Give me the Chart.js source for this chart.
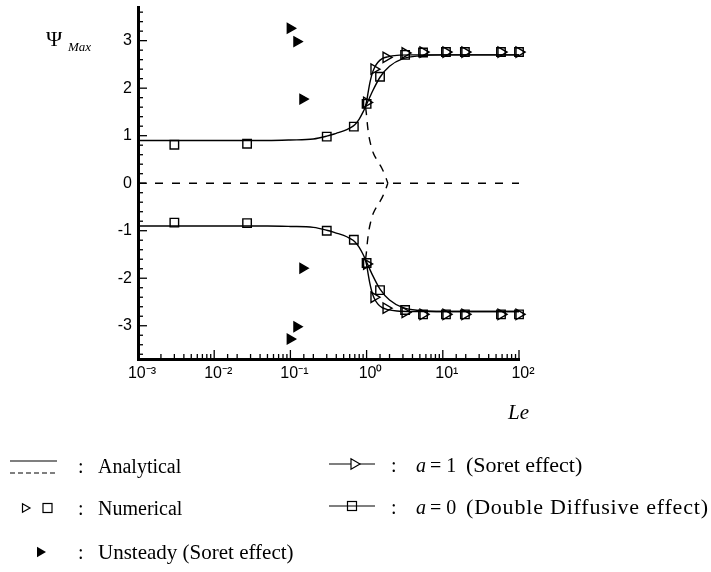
<!DOCTYPE html>
<html><head><meta charset="utf-8">
<script src="https://cdn.jsdelivr.net/npm/chart.js@4.4.0/dist/chart.umd.min.js"></script>
<style>html,body{margin:0;padding:0;background:#fff}#wrap{position:relative;width:711px;height:572px}</style>
</head><body><div id="wrap"><canvas id="c"></canvas></div>
<script>
// ---- tick labels ----
const xTickValues = [0.001, 0.01, 0.1, 1, 10, 100];
const xTickLabels = ['10\u207B\u00B3', '10\u207B\u00B2', '10\u207B\u00B9', '10\u2070', '10\u00B9', '10\u00B2'];
const yTickValues = [-3, -2, -1, 0, 1, 2, 3];
const yMinorStep = 0.2;

// ---- analytical, a = 0 (double diffusive) ----
const leAnaA0 = [0.001, 0.01, 0.05, 0.1, 0.2, 0.3, 0.4, 0.5, 0.6, 0.7, 0.8, 0.9, 1.0, 1.2, 1.5, 2.0, 3.0, 5.0, 10, 100];
const psiAnaA0Up = [0.90, 0.90, 0.90, 0.91, 0.93, 0.99, 1.05, 1.10, 1.16, 1.23, 1.35, 1.50, 1.66, 1.94, 2.23, 2.46, 2.62, 2.68, 2.70, 2.70];
const psiAnaA0Low = [-0.90, -0.90, -0.90, -0.91, -0.93, -0.99, -1.05, -1.10, -1.16, -1.23, -1.35, -1.50, -1.66, -1.94, -2.23, -2.46, -2.62, -2.68, -2.70, -2.70];

// ---- analytical, a = 1 (Soret) ----
const leAnaA1 = [0.95, 1.0, 1.05, 1.1, 1.17, 1.25, 1.4, 1.6, 1.9, 2.5, 4.0, 100];
const psiAnaA1Up = [1.58, 1.72, 1.92, 2.10, 2.28, 2.41, 2.54, 2.62, 2.66, 2.69, 2.70, 2.70];
const psiAnaA1Low = [-1.58, -1.72, -1.92, -2.10, -2.28, -2.41, -2.54, -2.62, -2.66, -2.69, -2.70, -2.70];

// ---- analytical, unstable branch (dashed) ----
const leAnaDash = [0.97, 1.0, 1.03, 1.07, 1.13, 1.22, 1.4, 1.58, 1.75, 1.9];
const psiAnaDashUp = [1.60, 1.42, 1.20, 1.00, 0.82, 0.64, 0.46, 0.32, 0.16, 0];
const psiAnaDashLow = [-1.60, -1.42, -1.20, -1.00, -0.82, -0.64, -0.46, -0.32, -0.16, 0];
const leZero = [0.001, 100];
const psiZero = [0, 0];

// ---- numerical, a = 0 (squares) ----
const leNumA0 = [0.003, 0.027, 0.3, 0.68, 1.0, 1.5, 3.2, 5.5, 11, 19.5, 58, 100];
const psiNumA0Up = [0.81, 0.83, 0.98, 1.19, 1.67, 2.24, 2.70, 2.75, 2.76, 2.76, 2.76, 2.76];
const psiNumA0Low = [-0.83, -0.84, -1.00, -1.19, -1.68, -2.25, -2.67, -2.76, -2.76, -2.76, -2.76, -2.76];

// ---- numerical, a = 1 (open triangles) ----
const leNumA1 = [1.0, 1.25, 1.8, 3.2, 5.5, 11, 19.5, 58, 100];
const psiNumA1Up = [1.70, 2.40, 2.65, 2.74, 2.76, 2.76, 2.76, 2.76, 2.76];
const psiNumA1Low = [-1.70, -2.40, -2.63, -2.72, -2.76, -2.76, -2.76, -2.76, -2.76];

// ---- unsteady (filled triangles) ----
const leUnsteady = [0.099, 0.121, 0.145, 0.145, 0.121, 0.099];
const psiUnsteady = [3.26, 2.98, 1.77, -1.79, -3.02, -3.28];

function pts(xs, ys) { return xs.map((x, i) => ({x: x, y: ys[i]})); }
function curve(xs, ys, dash) {
  return {data: pts(xs, ys), showLine: true, pointRadius: 0, borderColor: '#000', borderWidth: 1.4,
    borderDash: dash || [], cubicInterpolationMode: 'monotone', clip: false, fill: false};
}
function marks(xs, ys, style, r, filled, rot) {
  return {data: pts(xs, ys), showLine: false, pointStyle: style, pointRadius: r, pointRotation: rot || 0,
    pointBorderColor: '#000', pointBorderWidth: 1.4,
    pointBackgroundColor: filled ? '#000' : 'rgba(0,0,0,0)', clip: false};
}

const SERIF = '"Liberation Serif", "Times New Roman", serif';
const SANS = '"Liberation Sans", Arial, sans-serif';

const decor = {
  id: 'decor',
  afterDraw(chart) {
    const ctx = chart.ctx, xs = chart.scales.x, ys = chart.scales.y, a = chart.chartArea;
    ctx.save();
    ctx.strokeStyle = '#000'; ctx.fillStyle = '#000'; ctx.lineWidth = 1.3; ctx.setLineDash([]);
    // inward ticks, x
    xs.ticks.forEach(t => {
      const px = xs.getPixelForValue(t.value);
      const lg = Math.log10(t.value);
      const major = Math.abs(lg - Math.round(lg)) < 1e-6;
      ctx.beginPath(); ctx.moveTo(px, a.bottom); ctx.lineTo(px, a.bottom - (major ? 9 : 5)); ctx.stroke();
    });
    // inward ticks, y
    for (let v = Math.ceil(ys.min / yMinorStep) * yMinorStep; v <= ys.max + 1e-9; v += yMinorStep) {
      const py = ys.getPixelForValue(v);
      const major = Math.abs(v - Math.round(v)) < 1e-6;
      ctx.beginPath(); ctx.moveTo(a.left, py); ctx.lineTo(a.left + (major ? 9 : 5), py); ctx.stroke();
    }
    // axis titles
    ctx.textAlign = 'left'; ctx.textBaseline = 'alphabetic';
    ctx.font = '22px ' + SERIF; ctx.fillText('\u03A8', 46, 46);
    ctx.font = 'italic 13px ' + SERIF; ctx.fillText('Max', 68, 51);
    ctx.font = 'italic 21px ' + SERIF; ctx.fillText('Le', 508, 419);

    // legend
    const tri = (cx, cy, r, fill) => {
      ctx.beginPath(); ctx.moveTo(cx + r, cy); ctx.lineTo(cx - r / 2, cy - r * 0.866); ctx.lineTo(cx - r / 2, cy + r * 0.866); ctx.closePath();
      if (fill) ctx.fill(); else ctx.stroke();
    };
    ctx.lineWidth = 1.2;
    ctx.beginPath(); ctx.moveTo(10, 461); ctx.lineTo(57, 461); ctx.stroke();
    ctx.setLineDash([5, 3]);
    ctx.beginPath(); ctx.moveTo(10, 473); ctx.lineTo(57, 473); ctx.stroke();
    ctx.setLineDash([]);
    tri(25, 508, 5, false);
    ctx.strokeRect(43, 503.5, 9, 9);
    tri(40, 552, 6, true);
    // right column symbols
    ctx.beginPath(); ctx.moveTo(329, 464); ctx.lineTo(375, 464); ctx.stroke();
    ctx.fillStyle = '#fff'; tri(354, 464, 6, true); ctx.fillStyle = '#000'; tri(354, 464, 6, false);
    ctx.beginPath(); ctx.moveTo(329, 506); ctx.lineTo(375, 506); ctx.stroke();
    ctx.strokeRect(347.5, 501.5, 9, 9);

    ctx.font = '20px ' + SERIF;
    ctx.fillText(':', 78, 473); ctx.fillText('Analytical', 98, 473);
    ctx.fillText(':', 78, 515); ctx.fillText('Numerical', 98, 515);
    ctx.fillText(':', 78, 559);
    ctx.font = '21px ' + SERIF;
    ctx.fillText('Unsteady (Soret effect)', 98, 559);
    ctx.font = '20px ' + SERIF;
    ctx.fillText(':', 391, 472); ctx.fillText(':', 391, 514);
    ctx.font = 'italic 20px ' + SERIF; ctx.fillText('a', 416, 472); ctx.fillText('a', 416, 514);
    ctx.font = '20px ' + SERIF;
    ctx.fillText('= 1', 430, 472); ctx.fillText('= 0', 430, 514);
    ctx.font = '22px ' + SERIF;
    ctx.fillText('(Soret effect)', 466, 472);
    ctx.letterSpacing = '0.8px';
    ctx.fillText('(Double Diffusive effect)', 466, 514);
    ctx.letterSpacing = '0px';
    ctx.restore();
  }
};

new Chart(document.getElementById('c'), {
  type: 'scatter',
  data: {
    datasets: [
      marks(leNumA0, psiNumA0Up, 'rect', 6, false),
      marks(leNumA0, psiNumA0Low, 'rect', 6, false),
      marks(leNumA1, psiNumA1Up, 'triangle', 6, false, 90),
      marks(leNumA1, psiNumA1Low, 'triangle', 6, false, 90),
      marks(leUnsteady, psiUnsteady, 'triangle', 5.5, true, 90),
      curve(leAnaA0, psiAnaA0Up),
      curve(leAnaA0, psiAnaA0Low),
      curve(leAnaA1, psiAnaA1Up),
      curve(leAnaA1, psiAnaA1Low),
      curve(leAnaDash, psiAnaDashUp, [8, 7]),
      curve(leAnaDash, psiAnaDashLow, [8, 7]),
      curve(leZero, psiZero, [8, 9])
    ]
  },
  options: {
    responsive: true, maintainAspectRatio: false, animation: false,
    layout: {padding: {left: 100, right: 192, top: 7, bottom: 183}},
    plugins: {legend: {display: false}, tooltip: {enabled: false}},
    scales: {
      x: {
        type: 'logarithmic', min: 0.001, max: 100,
        grid: {display: false, drawTicks: false},
        border: {display: true, color: '#000', width: 3},
        ticks: {
          autoSkip: false, maxRotation: 0, padding: 5, labelOffset: 4, color: '#000',
          font: {family: SANS, size: 16},
          callback: (v) => {
            const i = xTickValues.findIndex(t => Math.abs(Math.log10(t) - Math.log10(v)) < 1e-6);
            return i >= 0 ? xTickLabels[i] : '';
          }
        },
        afterFit: (s) => { s.height = 30; s.paddingLeft = 0; s.paddingRight = 0; }
      },
      y: {
        min: -3.7, max: 3.7,
        grid: {display: false, drawTicks: false},
        border: {display: true, color: '#000', width: 3},
        ticks: {
          stepSize: 1, includeBounds: false, autoSkip: false, padding: 6, color: '#000',
          font: {family: SANS, size: 16},
          callback: (v) => yTickValues.includes(Math.round(v)) && Math.abs(v - Math.round(v)) < 1e-6 ? String(Math.round(v)) : ''
        },
        afterFit: (s) => { s.width = 38; s.paddingTop = 0; s.paddingBottom = 0; }
      }
    }
  },
  plugins: [decor]
});
</script></body></html>
